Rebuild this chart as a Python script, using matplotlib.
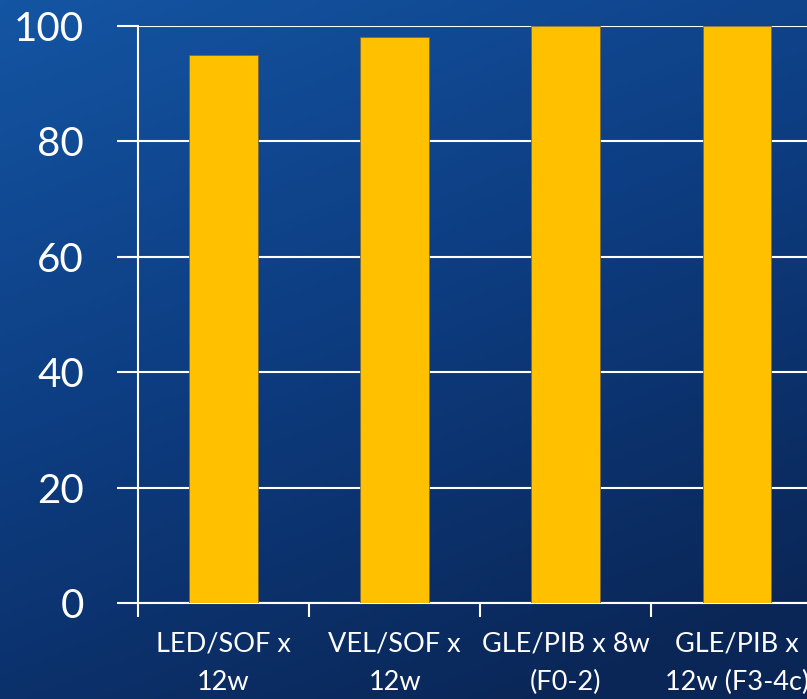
import numpy as np
import matplotlib
matplotlib.use("Agg")
import matplotlib.pyplot as plt
from matplotlib.colors import LinearSegmentedColormap

# data
categories = ["LED/SOF x\n12w", "VEL/SOF x\n12w", "GLE/PIB x 8w\n(F0-2)", "GLE/PIB x\n12w (F3-4c)"]
values = [95, 98, 100, 100]
y_ticks = [0, 20, 40, 60, 80, 100]

plt.rcParams['font.family'] = ['Lato', 'DejaVu Sans']

fig = plt.figure(figsize=(8.07, 6.99), dpi=100)

# BACKGROUND GRADIENT (lighter blue top-left, darker navy bottom-right)
bg = fig.add_axes([0, 0, 1, 1])
yy, xx = np.mgrid[0:1:200j, 0:1:200j]
t = np.clip(0.75 * yy + 0.35 * xx, 0, 1)
cmap_bg = LinearSegmentedColormap.from_list("bg", ["#1455a3", "#0d3c80", "#0a2656"])
bg.imshow(t, cmap=cmap_bg, aspect="auto", extent=[0, 1, 0, 1], origin="upper")
bg.axis("off")

# MAIN AXES (right edge runs past the image like the reference crop)
ax = fig.add_axes([0.171, 0.137, 0.848, 0.826])
ax.patch.set_alpha(0)
x = np.arange(len(categories))
ax.bar(x, values, width=0.4, color="#FFC000", edgecolor="#7a6a40", linewidth=0.6, zorder=3)

ax.set_xlim(-0.5, len(categories) - 0.5)
ax.set_ylim(0, 100)
ax.set_yticks(y_ticks)
ax.set_xticks(np.arange(len(categories) + 1) - 0.5, minor=False)
ax.set_xticklabels([""] * (len(categories) + 1))
ax.set_xticks(x, minor=True)
ax.set_xticklabels(categories, minor=True, fontsize=19.5, color="white", linespacing=1.7)
ax.tick_params(axis="x", which="minor", length=0, pad=20)
ax.tick_params(axis="x", which="major", length=10, width=1.5, color="white")
ax.tick_params(axis="y", length=15, width=1.5, color="white", labelsize=29, labelcolor="white", pad=24)

# GRID
ax.grid(axis="y", color="white", linewidth=1.5, zorder=1)
for side in ["top", "right"]:
    ax.spines[side].set_visible(False)
for side in ["left", "bottom"]:
    ax.spines[side].set_color("white")
    ax.spines[side].set_linewidth(1.5)

fig.savefig("out.png", dpi=100)
